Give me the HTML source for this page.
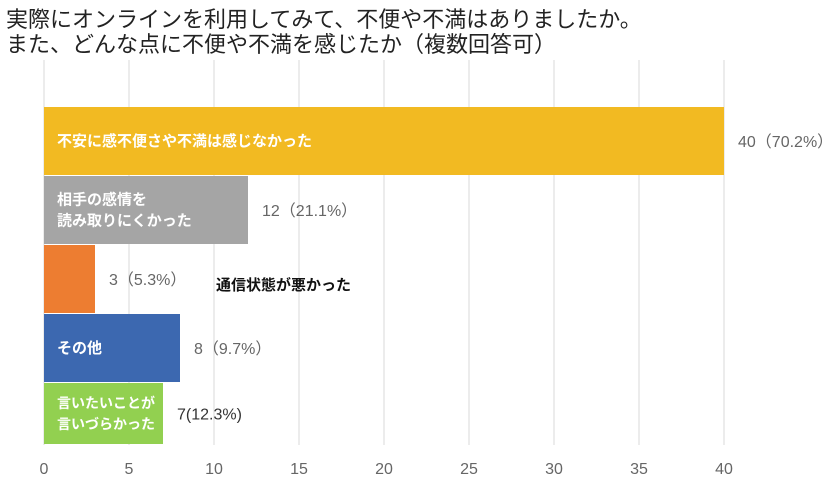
<!DOCTYPE html>
<html><head><meta charset="utf-8">
<style>
body{margin:0;width:840px;height:496px;background:#fff;overflow:hidden;font-family:"Liberation Sans","Noto Sans CJK JP",sans-serif;}
#title{position:absolute;left:6px;top:7px;font-size:22px;line-height:25px;color:#222;}
svg{position:absolute;left:0;top:0;}
</style></head><body>
<div id="title">実際にオンラインを利用してみて、不便や不満はありましたか。<br>また、どんな点に不便や不満を感じたか（複数回答可）</div>
<svg id="chart" width="840" height="496"></svg>
<script>
const categories=[["不安に感不便さや不満は感じなかった"],["相手の感情を","読み取りにくかった"],[],["その他"],["言いたいことが","言いづらかった"]];
const values=[40,12,3,8,7];
const valueLabels=["40（70.2%）","12（21.1%）","3（5.3%）","8（9.7%）","7(12.3%)"];
const colors=["#F2BA22","#A5A5A5","#ED7D31","#3C68B0","#92D050"];
const ticks=[0,5,10,15,20,25,30,35,40];
const NS="http://www.w3.org/2000/svg";
const svg=document.getElementById('chart');
const x=v=>44+v*17;
const y=i=>107+i*69;
function mk(t,a){const e=document.createElementNS(NS,t);for(const k in a)e.setAttribute(k,a[k]);svg.appendChild(e);return e;}
ticks.forEach(t=>{
 const l=mk('line',{x1:x(t),x2:x(t),y1:60,y2:445,stroke:'#d9d9d9','stroke-width':1});
 
 
 const tx=mk('text',{x:x(t),y:474,'text-anchor':'middle','font-size':16,fill:'#666'});
 tx.textContent=t;
 
 
});
values.forEach((v,i)=>{
 const h=i==4?61:68;
 const r=mk('rect',{x:x(0),y:y(i),width:x(v)-x(0),height:h,fill:colors[i]});
 
 
 const lines=categories[i];
 const fs=i==4?14:15;
 lines.forEach((s,j)=>{
  const t=mk('text',{x:57,y:y(i)+h/2+5+(j-(lines.length-1)/2)*21,'font-size':fs,'font-weight':'bold',fill:'#fff'});
  t.textContent=s;
  
  
 });
 const vl=mk('text',{x:x(v)+14,y:y(i)+h/2+6,'font-size':16,fill:i==4?'#333':'#666'});
 vl.textContent=valueLabels[i];
 
 
});
const ol=mk('text',{x:216,y:290,'font-size':15,'font-weight':'bold',fill:'#111'});
ol.textContent="通信状態が悪かった";


</script>
</body></html>
